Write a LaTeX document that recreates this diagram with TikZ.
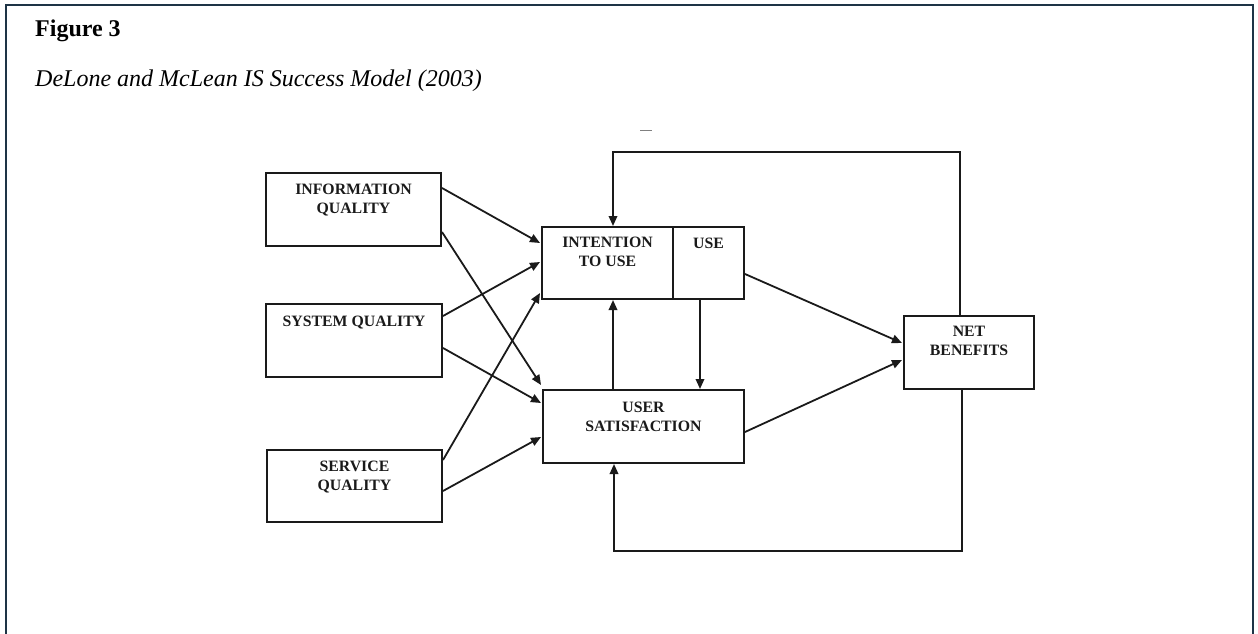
\documentclass[tikz,border=0pt]{standalone}
\usepackage{fontspec}
\setmainfont{Liberation Serif}
\usetikzlibrary{arrows.meta,calc}
\definecolor{framecol}{HTML}{1E3446}
\definecolor{ink}{HTML}{1A1A1A}
\begin{document}
\begin{tikzpicture}[x=1pt,y=-1pt,
  box/.style={draw=ink,line width=2pt,rectangle,inner sep=0pt,anchor=north west},
  lbl/.style={font=\bfseries\fontsize{15.8}{19}\selectfont,align=center,anchor=base,text=ink,inner sep=0pt},
  link/.style={draw=ink,line width=1.8pt,-{Triangle[length=10pt,width=8.5pt]}},
  plain/.style={draw=ink,line width=1.8pt}]
  % page and frame
  \useasboundingbox (0,0) rectangle (1258,634);
  \draw[framecol,line width=2.5pt] (6,640) -- (6,5) -- (1253,5) -- (1253,640);
  % heading
  \node[anchor=base west,inner sep=0pt,font=\bfseries\fontsize{24}{28}\selectfont] (fig) at (35,37) {Figure 3};
  \node[anchor=base west,inner sep=0pt,font=\itshape\fontsize{24}{28}\selectfont] (cap) at (35,86) {DeLone and McLean IS Success Model (2003)};
  % boxes
  \node[box,minimum width=175pt,minimum height=73pt] (iq) at (265,172) {};
  \node[box,minimum width=176pt,minimum height=73pt] (sq) at (265,303) {};
  \node[box,minimum width=175pt,minimum height=72pt] (svq) at (266,449) {};
  \node[box,minimum width=131pt,minimum height=72pt] (itu) at (541,226) {};
  \node[box,minimum width=71pt,minimum height=72pt] (use) at (672,226) {};
  \node[box,minimum width=201pt,minimum height=73pt] (us) at (542,389) {};
  \node[box,minimum width=130pt,minimum height=73pt] (nb) at (903,315) {};
  % labels (base anchor sits on the last line)
  \node[lbl] (iqL) at ($(iq.north)+(0,41)$) {INFORMATION\\QUALITY};
  \node[lbl] (sqL) at ($(sq.north)+(0,23)$) {SYSTEM QUALITY};
  \node[lbl] (svqL) at ($(svq.north)+(0,41)$) {SERVICE\\QUALITY};
  \node[lbl] (ituL) at ($(itu.north)+(0,40)$) {INTENTION\\TO USE};
  \node[lbl] (useL) at ($(use.north)+(0,22)$) {USE};
  \node[lbl] (usL) at ($(us.north)+(0,42)$) {USER\\SATISFACTION};
  \node[lbl] (nbL) at ($(nb.north)+(0,40)$) {NET\\BENEFITS};
  % quality dimensions to use and satisfaction
  \draw[link] ($(iq.north east)+(0,16)$) -- ($(itu.north west)+(-1,17)$);
  \draw[link] ($(iq.north east)+(0,60)$) -- ($(us.north west)+(-1,-4)$);
  \draw[link] ($(sq.north east)+(0,13)$) -- ($(itu.north west)+(-1,36)$);
  \draw[link] ($(sq.north east)+(0,45)$) -- ($(us.north west)+(-1,14)$);
  \draw[link] ($(svq.north east)+(0,11)$) -- ($(itu.north west)+(-1,67)$);
  \draw[link] ($(svq.north east)+(0,42)$) -- ($(us.north west)+(-1,48)$);
  % use and satisfaction to net benefits
  \draw[link] ($(use.north east)+(0,48)$) -- ($(nb.north west)+(-1,28)$);
  \draw[link] ($(us.north east)+(0,43)$) -- ($(nb.north west)+(-1,45)$);
  % between use and satisfaction
  \draw[link] ($(us.north west)+(71,0)$) -- ($(itu.south west)+(72,0)$);
  \draw[link] ($(use.south west)+(28,0)$) -- ($(us.north west)+(158,0)$);
  % feedback loops from net benefits
  \coordinate (topR) at ($(nb.north west)+(57,-163)$);
  \coordinate (topL) at ($(itu.north west)+(72,-74)$);
  \draw[link] ($(nb.north west)+(57,0)$) -- (topR) -- (topL) -- ($(itu.north west)+(72,0)$);
  \coordinate (botR) at ($(nb.south west)+(59,161)$);
  \coordinate (botL) at ($(us.south west)+(72,87)$);
  \draw[link] ($(nb.south west)+(59,0)$) -- (botR) -- (botL) -- ($(us.south west)+(72,0)$);
  % small mark above the top loop
  \draw[gray,line width=1pt] (640,130) -- (652,130);
\end{tikzpicture}
\end{document}
